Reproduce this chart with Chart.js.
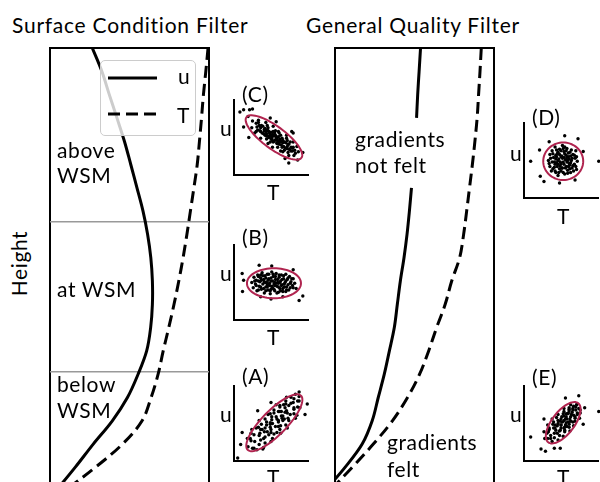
<!DOCTYPE html>
<html>
<head>
<meta charset="utf-8">
<script src="https://cdn.jsdelivr.net/npm/chart.js@4.4.1/dist/chart.umd.min.js"></script>
<style>
  body { margin: 0; width: 600px; height: 482px; overflow: hidden; background: #fff; position: relative; font-family: Lato, "Open Sans", sans-serif; color: #000; }
  canvas { position: absolute; }
  .txt { position: absolute; white-space: nowrap; font-size: 21px; line-height: 21px; letter-spacing: 0.6px; }
  .ttl { letter-spacing: 0.75px; }
  #legend { position: absolute; left: 100px; top: 60px; width: 94px; height: 74px; border: 1.5px solid #cccccc; border-radius: 5px; background: rgba(255,255,255,0.8); }
</style>
</head>
<body>

<canvas id="surface" width="165" height="469" style="left:47px; top:45px"></canvas>
<canvas id="quality" width="165" height="469" style="left:332px; top:45px"></canvas>

<div class="txt ttl" style="left:12px; top:14px">Surface Condition Filter</div>
<div class="txt ttl" style="left:306px; top:14px">General Quality Filter</div>
<div class="txt" style="left:-32px; top:253px; width:100px; text-align:center; transform:rotate(-90deg)">Height</div>

<div class="txt" style="left:57px; top:137px; line-height:25px">above<br>WSM</div>
<div class="txt" style="left:57px; top:276px; line-height:25px">at WSM</div>
<div class="txt" style="left:57px; top:371px; line-height:26px">below<br>WSM</div>
<div class="txt" style="left:355px; top:126px; line-height:26px">gradients<br>not felt</div>
<div class="txt" style="left:387px; top:428px; line-height:27px">gradients<br>felt</div>

<div id="legend">
  <svg width="94" height="74" style="position:absolute; left:0; top:0">
    <line x1="7" y1="17" x2="56" y2="17" stroke="#000" stroke-width="3"/>
    <line x1="7" y1="53" x2="56" y2="53" stroke="#000" stroke-width="3" stroke-dasharray="12,6"/>
  </svg>
  <div class="txt" style="left:77px; top:4px">u</div>
  <div class="txt" style="left:76px; top:43px">T</div>
</div>

<canvas id="insetC" width="82" height="83" style="left:230px; top:96px"></canvas>
<canvas id="insetB" width="82" height="83" style="left:230px; top:241px"></canvas>
<canvas id="insetA" width="82" height="83" style="left:230px; top:382px"></canvas>
<canvas id="insetD" width="82" height="83" style="left:520px; top:119px"></canvas>
<canvas id="insetE" width="82" height="83" style="left:520px; top:382px"></canvas>

<div class="txt" style="left:242px; top:83px">(C)</div>
<div class="txt" style="left:242px; top:226px">(B)</div>
<div class="txt" style="left:242px; top:365px">(A)</div>
<div class="txt" style="left:532px; top:106px">(D)</div>
<div class="txt" style="left:532px; top:366px">(E)</div>

<div class="txt" style="left:220px; top:117px">u</div>
<div class="txt" style="left:220px; top:262px">u</div>
<div class="txt" style="left:220px; top:403px">u</div>
<div class="txt" style="left:510px; top:142px">u</div>
<div class="txt" style="left:510px; top:403px">u</div>

<div class="txt" style="left:267px; top:181px">T</div>
<div class="txt" style="left:267px; top:326px">T</div>
<div class="txt" style="left:267px; top:466px">T</div>
<div class="txt" style="left:557px; top:205px">T</div>
<div class="txt" style="left:557px; top:466px">T</div>

<script>
// heights (top of panel = 100)
const heights = [100, 95, 90, 85, 80, 75, 70, 65, 60, 55, 50, 45, 40, 35, 30, 25, 20, 15, 10, 5];

// Surface Condition Filter profiles
const uSurface = [26.6, 32.6, 37.3, 42.1, 46.8, 50.8, 54.7, 58.5, 61.4, 63.4, 64.4, 64.4, 63.3, 60.8, 55.4, 48.7, 39.2, 27.2, 15.8, 3.8];
const tSurface = [99.4, 98.0, 96.5, 95.3, 94.0, 92.6, 90.5, 88.3, 86.1, 83.7, 81.0, 78.0, 74.7, 71.2, 68.0, 63.6, 57.9, 45.6, 28.5, 9.5];
const wsmLevels = [62.7, 30.5];

// General Quality Filter profiles (gap where the label sits)
const uQuality = [53.8, 52.9, 52.0, 51.3, null, null, 48.1, 46.8, 45.3, 43.4, 41.1, 39.2, 37.3, 34.2, 31.0, 27.2, 23.4, 17.1, 6.3, -6.3];
const tQuality = [92.0, 91.2, 90.3, 89.4, 88.0, 86.4, 84.6, 82.8, 80.9, 78.4, 73.4, 69.3, 63.9, 58.9, 53.2, 45.6, 36.1, 24.1, 10.8, -3.2];

// scatter samples [T, u] for each inset
const ptsC = [[2.5,7.2],[2.4,6.3],[3.3,7.3],[3.1,6.4],[2.8,5.6],[3.7,6.6],[4.3,7.0],[3.6,5.8],[4.1,6.1],[3.6,4.9],[4.6,6.3],[4.2,5.3],[4.7,5.8],[5.3,6.5],[4.4,4.8],[4.9,5.3],[5.3,5.8],[4.6,4.2],[5.1,4.9],[5.6,5.3],[6.0,5.8],[5.3,4.4],[5.8,4.9],[5.2,3.7],[6.3,5.3],[6.0,4.4],[6.5,4.9],[5.9,3.7],[7.1,5.3],[6.6,4.3],[6.5,3.7],[7.2,4.6],[6.6,3.1],[7.3,4.1],[7.2,3.5],[8.0,4.4],[7.3,3.0],[8.0,3.7],[7.9,3.2],[8.5,3.8],[8.1,2.6],[8.7,3.1],[4.9,4.4],[6.1,5.6],[4.4,5.5],[6.6,4.6],[3.5,5.9],[7.6,4.4],[5.2,5.4],[5.8,4.3],[4.5,6.6],[6.3,3.2],[3.3,7.0],[7.4,2.6],[6.2,4.5],[4.7,5.2],[7.1,4.9],[4.5,6.0],[7.7,3.7],[3.0,5.8],
  [3.0,6.9],[3.2,6.0],[3.4,6.6],[3.6,6.3],[3.8,5.6],[3.9,6.5],[4.0,5.5],[4.2,6.2],[4.3,5.8],[4.4,5.2],[4.6,5.9],[4.7,5.0],[4.8,5.6],[5.0,4.8],[5.0,5.7],[5.1,5.1],[5.2,4.6],[5.4,5.2],[5.4,4.5],[5.5,5.6],[5.6,4.7],[5.7,5.1],[5.8,4.2],[5.9,4.6],[6.0,5.1],[6.1,4.1],[6.2,4.8],[6.3,4.4],[6.4,4.0],[6.5,4.5],[6.7,3.8],[6.8,4.4],[6.9,3.6],[7.0,4.3],[7.2,3.8],[7.4,4.1],[7.5,3.4],[7.7,3.2],[7.9,3.6],[8.2,3.3],[8.3,2.9],[4.1,5.9],[5.6,5.9],[6.8,3.3],
  [0.8,8.4],[1.3,8.7],[2.1,8.7],[2.5,8.8],[1.3,6.4],[2.0,5.0],[7.4,1.6],[8.6,2.0],[4.9,7.6],[5.7,7.1],[8.0,5.6],[7.8,5.8],[9.3,3.0],[1.9,7.8],[6.9,2.2]];
const ptsB = [[2.4,5.0],[2.6,4.3],[2.7,5.7],[2.9,4.8],[3.0,5.3],[3.1,3.9],[3.2,6.0],[3.4,4.5],[3.5,5.1],[3.6,5.6],[3.7,4.1],[3.8,6.3],[3.9,4.8],[4.0,5.4],[4.1,3.6],[4.2,5.9],[4.3,4.4],[4.4,5.0],[4.5,6.1],[4.6,4.0],[4.7,5.5],[4.8,4.6],[4.9,3.5],[5.0,5.2],[5.1,6.4],[5.2,4.3],[5.3,5.8],[5.4,4.8],[5.5,3.9],[5.6,5.4],[5.7,6.2],[5.8,4.5],[5.9,5.0],[6.0,3.7],[6.1,5.7],[6.2,4.2],[6.3,5.2],[6.4,6.0],[6.5,4.7],[6.6,3.8],[6.7,5.5],[6.8,4.4],[6.9,5.0],[7.0,6.1],[7.1,4.0],[7.2,5.4],[7.3,4.7],[7.5,5.8],[7.6,4.3],[7.7,5.1],[7.9,4.6],[8.0,5.5],[8.2,4.9],[8.4,4.2],[3.3,5.2],[4.5,4.7],[5.5,5.0],[6.0,4.9],[5.0,4.1],[4.2,5.0],
  [2.8,5.2],[3.0,4.6],[3.3,4.0],[3.3,5.8],[3.6,4.4],[3.7,5.3],[3.9,5.9],[4.0,4.2],[4.1,5.1],[4.3,3.9],[4.3,5.6],[4.5,4.4],[4.6,5.3],[4.7,6.1],[4.8,4.9],[4.9,3.9],[5.0,5.6],[5.1,4.5],[5.2,5.2],[5.3,6.1],[5.4,4.1],[5.5,4.6],[5.6,5.8],[5.7,4.9],[5.8,3.6],[5.9,5.4],[6.0,4.4],[6.1,6.0],[6.2,5.0],[6.3,3.9],[6.4,4.6],[6.5,5.4],[6.6,4.2],[6.7,5.9],[6.8,4.8],[7.0,5.2],[7.1,4.4],[7.3,5.6],[7.4,4.0],[7.6,4.9],[7.8,5.5],[8.0,4.3],[7.0,3.8],[3.6,6.0],
  [1.1,6.2],[1.15,3.8],[8.8,2.6],[9.3,3.2],[3.4,7.3],[5.1,7.2],[8.0,6.7],[5.0,2.8],[3.6,3.1],[6.6,3.1],[1.3,5.3]];
const ptsA = [[1.9,1.9],[3.1,1.5],[1.8,3.0],[2.8,2.6],[4.0,1.8],[2.7,3.5],[2.4,4.2],[4.0,3.0],[3.5,3.7],[5.0,2.6],[3.3,4.5],[4.7,3.5],[4.2,4.4],[3.4,5.4],[5.4,3.6],[4.9,4.5],[4.4,5.2],[6.3,3.7],[5.6,4.6],[5.1,5.5],[4.6,6.2],[6.3,4.7],[5.8,5.6],[7.2,4.4],[5.4,6.4],[6.5,5.7],[6.0,6.6],[7.4,5.4],[5.7,7.5],[6.9,6.5],[7.6,6.2],[6.7,7.5],[8.5,6.1],[7.4,7.4],[8.1,7.1],[7.1,8.5],[8.9,7.1],[8.1,8.3],[8.8,8.0],[8.3,8.9],[6.2,4.2],[4.9,6.3],[4.5,3.9],[6.4,6.6],[3.6,2.8],[7.0,8.0],[4.9,4.9],[6.6,5.4],[3.0,4.4],[8.3,5.7],[2.2,3.0],[6.4,6.0],[5.0,4.2],[6.2,7.4],[3.8,4.2],[8.0,7.8],
  [2.5,1.7],[2.3,2.7],[3.4,2.2],[2.3,3.7],[4.2,2.4],[3.4,3.4],[4.2,3.2],[3.6,4.2],[5.2,3.0],[3.7,4.9],[5.0,3.8],[4.4,4.8],[5.8,3.8],[4.2,5.6],[5.2,5.0],[6.0,4.6],[5.1,5.9],[6.0,5.2],[5.7,5.9],[7.0,4.8],[5.4,6.8],[6.8,5.6],[6.2,6.6],[7.3,5.7],[6.2,7.2],[7.2,6.4],[6.9,7.1],[8.1,6.3],[7.0,7.6],[8.1,6.9],[7.7,7.7],[8.6,7.2],[7.7,8.5],[8.6,8.0],[8.8,8.6],[4.9,5.1],[6.0,5.4],[6.6,6.0],[4.1,3.9],[7.1,6.7],
  [0.5,0.4],[1.1,3.8],[0.9,2.2],[5.0,7.8],[3.2,6.7],[8.8,9.2],[9.9,7.6],[9.6,6.2],[3.9,1.6],[2.7,1.7]];
const ptsD = [[3.3,5.0],[3.5,4.2],[3.5,5.8],[3.7,3.6],[3.8,4.8],[3.8,6.3],[4.0,5.4],[4.1,4.1],[4.2,6.8],[4.3,3.4],[4.4,4.7],[4.5,5.9],[4.6,3.0],[4.7,5.2],[4.8,6.5],[4.9,4.3],[5.0,3.6],[5.1,5.6],[5.2,7.0],[5.3,4.8],[5.4,6.2],[5.5,3.2],[5.6,5.1],[5.7,4.2],[5.8,6.6],[5.9,3.7],[6.0,5.5],[6.1,4.6],[6.2,6.1],[6.3,3.4],[6.4,5.0],[6.5,4.0],[6.6,5.8],[6.8,4.5],[6.9,5.3],[7.0,6.3],[7.1,3.8],[7.2,4.9],[4.4,5.5],[5.0,4.6],[5.7,5.7],[6.0,4.2],[4.8,3.9],[5.4,5.4],[4.2,4.5],[6.3,5.6],[5.2,4.0],[4.6,6.1],[5.9,5.0],[5.5,6.8],
  [3.4,4.6],[3.6,5.3],[3.9,3.9],[3.9,5.9],[4.1,4.8],[4.2,3.6],[4.3,5.7],[4.4,6.4],[4.5,4.2],[4.6,5.0],[4.7,3.4],[4.8,5.8],[4.9,4.8],[5.0,6.3],[5.1,4.0],[5.2,5.3],[5.3,3.4],[5.4,4.5],[5.5,5.9],[5.6,4.0],[5.7,6.3],[5.8,4.8],[5.9,3.3],[6.0,6.0],[6.1,5.2],[6.2,3.9],[6.3,4.7],[6.4,6.4],[6.5,5.3],[6.6,4.3],[6.7,3.6],[6.8,5.7],[7.0,4.2],[7.1,5.5],[4.3,5.2],[5.0,5.5],[5.8,5.4],[6.2,4.4],[4.6,4.5],[5.3,6.6],
  [0.9,4.9],[10.1,4.9],[3.4,7.5],[5.5,8.3],[7.3,7.9],[2.2,2.9],[2.7,2.2],[4.8,2.0],[6.9,2.4],[8.0,6.2],[2.1,6.4]];
const ptsE = [[2.8,3.0],[3.8,2.6],[2.7,3.9],[3.6,3.4],[4.6,2.8],[3.4,4.2],[3.2,4.8],[4.5,3.7],[4.0,4.4],[5.3,3.3],[3.9,4.9],[4.9,4.1],[4.5,4.7],[3.8,5.6],[5.5,4.1],[5.0,4.8],[4.6,5.4],[6.2,4.0],[5.6,4.8],[5.0,5.6],[4.6,6.2],[6.1,4.9],[5.6,5.6],[6.7,4.7],[5.3,6.3],[6.2,5.6],[5.7,6.3],[6.9,5.3],[5.4,7.0],[6.4,6.2],[6.9,5.9],[6.1,6.9],[7.5,5.7],[6.6,6.8],[7.2,6.4],[6.3,7.5],[7.6,6.4],[7.0,7.2],[7.4,7.0],[7.2,7.6],[5.0,4.4],[5.4,5.4],[4.9,5.3],[5.8,5.6],[4.1,3.7],[5.9,6.3],[5.4,4.4],[6.3,5.3],[3.3,3.9],[6.1,6.7],
  [3.2,3.0],[3.1,3.7],[4.1,3.1],[3.4,4.4],[4.8,3.4],[4.2,4.4],[4.8,4.0],[4.0,5.2],[5.5,3.9],[4.6,5.0],[5.5,4.5],[4.4,5.8],[5.2,5.2],[6.1,4.5],[5.1,5.9],[6.0,5.2],[5.7,5.9],[6.6,5.2],[5.4,6.6],[6.3,5.9],[6.0,6.4],[6.9,5.7],[6.5,6.5],[6.1,7.1],[7.2,6.2],[7.0,6.8],[6.7,7.3],[7.6,6.8],[7.1,7.5],[3.6,3.0],[5.0,4.8],[5.7,5.1],[5.4,6.0],[6.7,6.1],[4.3,4.1],[4.2,4.8],[5.8,4.6],[6.6,7.0],
  [0.9,3.2],[10.1,6.6],[7.4,8.7],[5.6,8.4],[2.3,1.6],[2.9,1.3],[4.1,1.7],[4.9,1.7],[8.2,7.1],[8.0,4.9],[2.7,5.6]];

// confidence ellipses [centre T, centre u, semi-major, semi-minor, angle deg]
const ellC = [5.4, 5.0, 4.6, 1.5, -36];
const ellB = [5.4, 4.9, 3.65, 2.0, 0];
const ellA = [5.45, 5.1, 5.1, 1.65, 45];
const ellD = [5.3, 4.9, 2.7, 2.5, 0];
const ellE = [5.3, 5.1, 3.3, 1.5, 52];

const hidden = { grid: { display: false, drawTicks: false }, ticks: { display: false } };
const frame = { display: true, color: '#000', width: 2 };

function profile(data) {
  return heights.map((h, i) => ({ x: data[i], y: h }));
}

function panel(id, u, t, extra) {
  new Chart(document.getElementById(id), {
    type: 'line',
    data: {
      datasets: [
        { label: 'u', data: profile(u), borderColor: '#000', borderWidth: 3, pointRadius: 0, tension: 0.35, spanGaps: false },
        { label: 'T', data: profile(t), borderColor: '#000', borderWidth: 3, borderDash: [12, 6], pointRadius: 0, tension: 0.35 },
        ...extra
      ]
    },
    options: {
      responsive: false,
      animation: false,
      events: [],
      layout: { padding: { left: 3, right: 3, top: 3, bottom: 0 } },
      plugins: { legend: { display: false }, tooltip: { enabled: false } },
      scales: {
        x: { type: 'linear', position: 'top', min: 0, max: 100, ...hidden, border: frame },
        y: { type: 'linear', min: 0, max: 100, ...hidden, border: frame },
        y2: { type: 'linear', position: 'right', min: 0, max: 100, ...hidden, border: frame }
      }
    }
  });
}

const wsmLines = wsmLevels.map(h => ({
  data: [{ x: 0, y: h }, { x: 100, y: h }], borderColor: '#999', borderWidth: 1.5, pointRadius: 0
}));
panel('surface', uSurface, tSurface, wsmLines);
panel('quality', uQuality, tQuality, []);

function ellipsePlugin(e) {
  return {
    id: 'ellipse',
    afterDatasetsDraw(chart) {
      const { ctx, scales } = chart;
      const [cx, cy, a, b, deg] = e;
      const r = deg * Math.PI / 180;
      ctx.save();
      ctx.beginPath();
      for (let k = 0; k <= 72; k++) {
        const th = k / 72 * 2 * Math.PI;
        const dx = a * Math.cos(th), dy = b * Math.sin(th);
        const px = scales.x.getPixelForValue(cx + dx * Math.cos(r) - dy * Math.sin(r));
        const py = scales.y.getPixelForValue(cy + dx * Math.sin(r) + dy * Math.cos(r));
        k === 0 ? ctx.moveTo(px, py) : ctx.lineTo(px, py);
      }
      ctx.strokeStyle = '#b0244f';
      ctx.lineWidth = 2;
      ctx.stroke();
      ctx.restore();
    }
  };
}

function inset(id, pts, ell) {
  new Chart(document.getElementById(id), {
    type: 'scatter',
    data: {
      datasets: [{
        data: pts.map(p => ({ x: p[0], y: p[1] })),
        pointRadius: 1.7, pointBorderWidth: 0, pointBackgroundColor: '#000', clip: false
      }]
    },
    options: {
      responsive: false,
      animation: false,
      events: [],
      layout: { padding: 4 },
      plugins: { legend: { display: false }, tooltip: { enabled: false } },
      scales: {
        x: { min: 0, max: 10, ...hidden, border: frame },
        y: { min: 0, max: 10, ...hidden, border: frame }
      }
    },
    plugins: [ellipsePlugin(ell)]
  });
}

inset('insetC', ptsC, ellC);
inset('insetB', ptsB, ellB);
inset('insetA', ptsA, ellA);
inset('insetD', ptsD, ellD);
inset('insetE', ptsE, ellE);
</script>
</body>
</html>
